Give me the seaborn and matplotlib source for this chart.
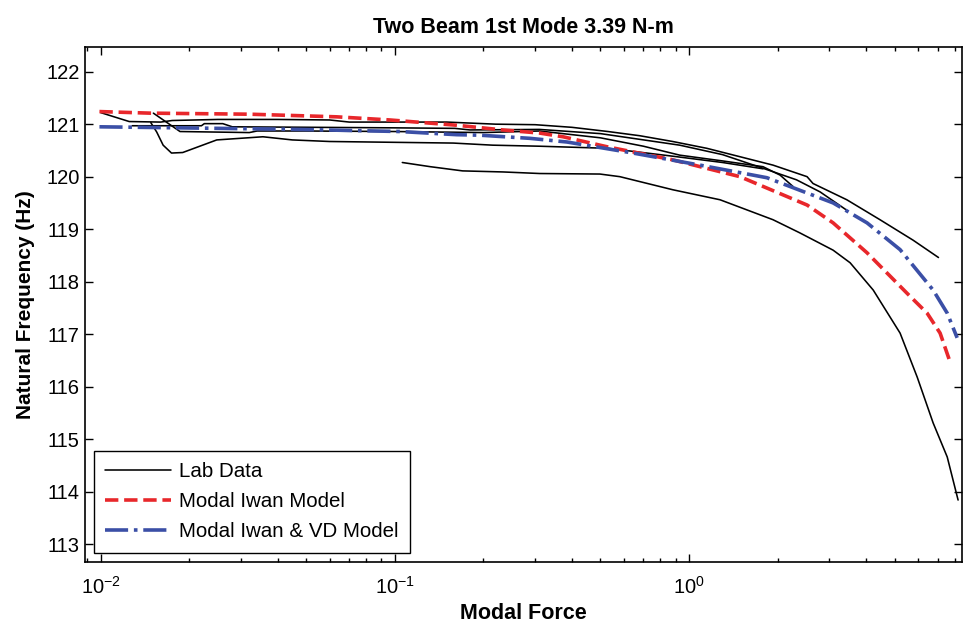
import matplotlib
matplotlib.use('Agg')
import matplotlib.pyplot as plt
import numpy as np
import pandas as pd
import seaborn as sns

sns.set_style('ticks')
plt.rcParams['font.family'] = ['Liberation Sans', 'DejaVu Sans']
plt.rcParams['mathtext.fontset'] = 'custom'
plt.rcParams['mathtext.rm'] = 'Liberation Sans'
for key in ['text.color', 'axes.labelcolor', 'xtick.color', 'ytick.color', 'axes.edgecolor']:
    plt.rcParams[key] = 'black'

# lab data curves (modal force, natural frequency Hz)
lab1_force = [0.0100, 0.0125, 0.0160, 0.0175, 0.025, 0.04, 0.06, 0.07, 0.15, 0.22, 0.30, 0.40, 0.53,
              0.68, 0.88, 1.15, 1.49, 1.93, 2.52, 2.64, 3.44, 4.46, 5.78, 7.05]
lab1_freq = [121.22, 121.05, 121.04, 121.07, 121.09, 121.09, 121.08, 121.04, 121.04, 121.00, 120.99,
             120.94, 120.86, 120.78, 120.67, 120.54, 120.38, 120.22, 120.00, 119.87, 119.56, 119.18,
             118.79, 118.46]

lab2_force = [0.0128, 0.022, 0.0225, 0.026, 0.028, 0.10, 0.16, 0.18, 0.31, 0.50, 0.93, 1.30, 1.785,
              2.32, 2.79, 3.44]
lab2_freq = [120.97, 120.97, 121.01, 121.01, 120.95, 120.93, 120.92, 120.89, 120.90, 120.82, 120.60,
             120.42, 120.16, 119.94, 119.71, 119.36]

lab3_force = [0.0151, 0.0186, 0.032, 0.034, 0.049, 0.10, 0.20, 0.31, 0.50, 0.70, 0.93, 1.30, 1.785,
              2.04, 2.26]
lab3_freq = [121.21, 120.86, 120.84, 120.87, 120.87, 120.86, 120.84, 120.87, 120.74, 120.58, 120.41,
             120.30, 120.19, 120.03, 119.81]

lab4_force = [0.0148, 0.0155, 0.0163, 0.0174, 0.019, 0.0248, 0.0356, 0.0448, 0.06, 0.158, 0.215,
              0.311, 0.53, 0.88, 1.30, 1.785]
lab4_freq = [121.03, 120.85, 120.60, 120.45, 120.46, 120.70, 120.76, 120.70, 120.67, 120.64, 120.60,
             120.58, 120.54, 120.39, 120.27, 120.15]

lab5_force = [0.106, 0.132, 0.170, 0.233, 0.311, 0.498, 0.582, 0.882, 1.275, 1.93, 2.38, 3.09, 3.53,
              4.23, 5.22, 5.97, 6.76, 7.55, 8.22]
lab5_freq = [120.27, 120.19, 120.11, 120.09, 120.06, 120.05, 120.00, 119.75, 119.56, 119.18, 118.93,
             118.60, 118.36, 117.84, 117.02, 116.18, 115.31, 114.66, 113.84]

# modal Iwan model
iwan_force = [0.0099, 0.0147, 0.0321, 0.0633, 0.0962, 0.162, 0.233, 0.311, 0.373, 0.526, 0.882, 1.49,
              2.52, 3.09, 4.03, 5.51, 6.45, 7.14, 7.72]
iwan_freq = [121.24, 121.21, 121.19, 121.14, 121.08, 120.98, 120.89, 120.83, 120.76, 120.57, 120.32,
             120.00, 119.46, 119.12, 118.55, 117.78, 117.40, 117.02, 116.47]

# modal Iwan & VD model
iwan_vd_force = [0.0099, 0.0475, 0.104, 0.162, 0.1946, 0.288, 0.385, 0.645, 1.09, 1.84, 3.09, 4.03,
                 5.22, 6.76, 7.55, 8.16]
iwan_vd_freq = [120.95, 120.90, 120.86, 120.80, 120.79, 120.73, 120.66, 120.45, 120.22, 119.98, 119.50,
                119.12, 118.61, 117.84, 117.40, 116.93]

lab_curves = [(lab1_force, lab1_freq), (lab2_force, lab2_freq), (lab3_force, lab3_freq),
              (lab4_force, lab4_freq), (lab5_force, lab5_freq)]

fig, ax = plt.subplots(figsize=(9.64, 6.25), dpi=100)
fig.subplots_adjust(left=0.0877, right=0.998, top=0.9248, bottom=0.1008)

for i, (f, w) in enumerate(lab_curves):
    sns.lineplot(x=f, y=w, ax=ax, color='black', linewidth=1.15, sort=False, estimator=None,
                 label='Lab Data' if i == 0 else None)

sns.lineplot(x=iwan_force, y=iwan_freq, ax=ax, color='#e8272b', linewidth=2.6, linestyle='--',
             sort=False, estimator=None, label='Modal Iwan Model')
sns.lineplot(x=iwan_vd_force, y=iwan_vd_freq, ax=ax, color='#3b4fa6', linewidth=2.6, linestyle='-.',
             sort=False, estimator=None, label='Modal Iwan & VD Model')

ax.set_xscale('log')
ax.set_xlim(0.00881, 8.48)
ax.set_ylim(112.66, 122.47)
ax.set_yticks(np.arange(113, 123, 1))

ax.tick_params(which='both', direction='in', top=True, right=True, labelsize=14.5, width=1.0)
ax.tick_params(which='major', length=6)
ax.tick_params(which='minor', length=3)
ax.tick_params(axis='x', which='both', pad=10)
for s in ax.spines.values():
    s.set_linewidth(1.2)

ax.set_title('Two Beam 1st Mode 3.39 N-m', fontsize=15.5, fontweight='bold', pad=10)
ax.set_xlabel('Modal Force', fontsize=15.5, fontweight='bold', labelpad=4)
ax.set_ylabel('Natural Frequency (Hz)', fontsize=15, fontweight='bold', labelpad=8)

leg = ax.legend(loc='lower left', fontsize=14.8, frameon=True, fancybox=False, edgecolor='black',
                framealpha=1, handlelength=3.2, handletextpad=0.4, borderaxespad=0.45,
                labelspacing=0.55, borderpad=0.55)
leg.get_frame().set_linewidth(1.0)

plt.savefig('out.png', dpi=100)
